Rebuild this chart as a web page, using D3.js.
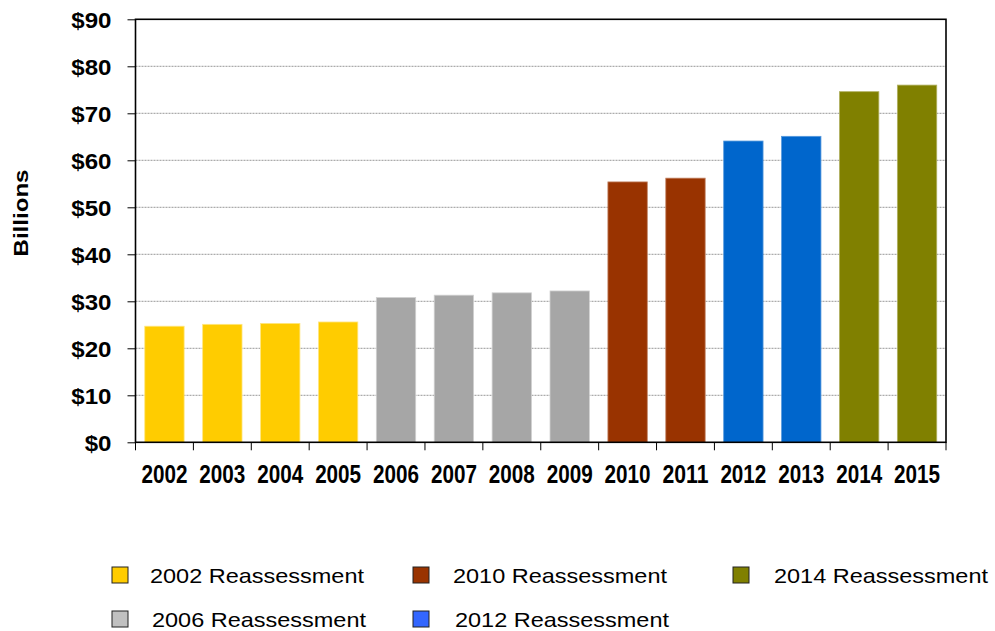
<!DOCTYPE html>
<html>
<head>
<meta charset="utf-8">
<script src="https://cdn.jsdelivr.net/npm/d3@7"></script>
<style>
  html, body { margin: 0; padding: 0; background: #fff; }
  svg { display: block; }
</style>
</head>
<body>
<svg id="chart" width="995" height="631"></svg>
<script>
// ---- data ----
const years = ["2002","2003","2004","2005","2006","2007","2008","2009","2010","2011","2012","2013","2014","2015"];
const values = [24.7, 25.1, 25.3, 25.6, 30.8, 31.3, 31.8, 32.2, 55.4, 56.2, 64.1, 65.1, 74.6, 76.0];
const groupOf = ["2002","2002","2002","2002","2006","2006","2006","2006","2010","2010","2012","2012","2014","2014"];
const legendGroups = ["2002","2010","2014","2006","2012"];
const legendLabels = ["2002 Reassessment","2010 Reassessment","2014 Reassessment","2006 Reassessment","2012 Reassessment"];
const yTicks = [0,10,20,30,40,50,60,70,80,90];

const barColor = {"2002":"#FFCC00","2006":"#A6A6A6","2010":"#993300","2012":"#0066CC","2014":"#808000"};
const barEdge  = {"2002":"#FFE680","2006":"#D0D0D0","2010":"#C08060","2012":"#5599DD","2014":"#B0B060"};
const legendColor = {"2002":"#FFCC00","2006":"#C0C0C0","2010":"#993300","2012":"#3366FF","2014":"#808000"};

(function() {
const svg = d3.select("#chart");
const pL = 135.5, pR = 946, pT = 19.3, pB = 442.3;

const x = d3.scaleBand().domain(years).range([pL, pR]).paddingInner(0.32).paddingOuter(0.16);
const y = d3.scaleLinear().domain([0, 90]).range([pB, pT]);

// gridlines
svg.append("g").selectAll("line").data(yTicks.filter(d => d > 0 && d < 90)).join("line")
  .attr("x1", pL).attr("x2", pR)
  .attr("y1", d => y(d)).attr("y2", d => y(d))
  .attr("stroke", "#8c8c8c").attr("stroke-width", 0.9)
  .attr("stroke-dasharray", "2,1");

// bars
svg.append("g").selectAll("rect").data(years).join("rect")
  .attr("x", d => x(d))
  .attr("width", x.bandwidth())
  .attr("y", (d, i) => y(values[i]))
  .attr("height", (d, i) => pB - y(values[i]))
  .attr("fill", (d, i) => barColor[groupOf[i]])
  .attr("stroke", (d, i) => barEdge[groupOf[i]])
  .attr("stroke-width", 0.8);

// frame
svg.append("rect").attr("x", pL).attr("y", pT)
  .attr("width", pR - pL).attr("height", pB - pT)
  .attr("fill", "none").attr("stroke", "#000").attr("stroke-width", 1.6);

// y axis
const yAxis = d3.axisLeft(y).tickValues(yTicks).tickSize(8).tickPadding(16)
  .tickFormat(d => "$" + d);
const gy = svg.append("g").attr("transform", `translate(${pL},0)`).call(yAxis);
gy.select(".domain").remove();
gy.selectAll(".tick line").attr("stroke", "#000").attr("stroke-width", 1);
gy.selectAll(".tick text")
  .attr("font-family", "'Liberation Sans', Arial, sans-serif")
  .attr("font-weight", "bold").attr("font-size", "21.5px").attr("fill", "#000")
  .attr("dy", "0.36em");
gy.selectAll(".tick text").each(function() {
  const w = this.getComputedTextLength();
  d3.select(this).attr("textLength", w * 1.12).attr("lengthAdjust", "spacingAndGlyphs");
});

// x axis (ticks at band boundaries)
const boundaries = years.map(d => x(d) - x.step() * x.paddingInner() / 2);
boundaries[0] = pL;
boundaries.push(pR);
svg.append("g").selectAll("line").data(boundaries).join("line")
  .attr("x1", d => d).attr("x2", d => d)
  .attr("y1", pB).attr("y2", pB + 8)
  .attr("stroke", "#000").attr("stroke-width", 1);

const xAxis = d3.axisBottom(x).tickSize(0).tickPadding(0);
const gx = svg.append("g").attr("transform", `translate(0,${pB})`).call(xAxis);
gx.select(".domain").remove();
gx.selectAll(".tick text")
  .attr("y", 40.5).attr("dy", 0)
  .attr("font-family", "'Liberation Sans Narrow', 'Arial Narrow', 'Liberation Sans', Arial, sans-serif")
  .attr("font-weight", "bold").attr("font-size", "25px").attr("fill", "#000")
  .attr("textLength", 46).attr("lengthAdjust", "spacingAndGlyphs");

// y title
svg.append("text")
  .attr("transform", "translate(28,213) rotate(-90)")
  .attr("text-anchor", "middle")
  .attr("font-family", "'Liberation Sans', Arial, sans-serif")
  .attr("font-weight", "bold").attr("font-size", "21px").attr("fill", "#000")
  .attr("textLength", 87).attr("lengthAdjust", "spacingAndGlyphs")
  .text("Billions");

// legend
const legX = [112, 413, 733, 112, 413];
const legTX = [150, 453, 774, 152, 455];
const legY = [583, 583, 583, 627, 627];
const lg = svg.append("g");
legendGroups.forEach((g, i) => {
  lg.append("rect")
    .attr("x", legX[i]).attr("y", legY[i] - 16)
    .attr("width", 16).attr("height", 16)
    .attr("fill", legendColor[g]).attr("stroke", "#222").attr("stroke-width", 1);
  lg.append("text")
    .attr("x", legTX[i]).attr("y", legY[i])
    .attr("font-family", "'Liberation Sans', Arial, sans-serif")
    .attr("font-size", "21px").attr("fill", "#000")
    .attr("textLength", 214).attr("lengthAdjust", "spacingAndGlyphs")
    .text(legendLabels[i]);
});
})();
</script>
</body>
</html>
